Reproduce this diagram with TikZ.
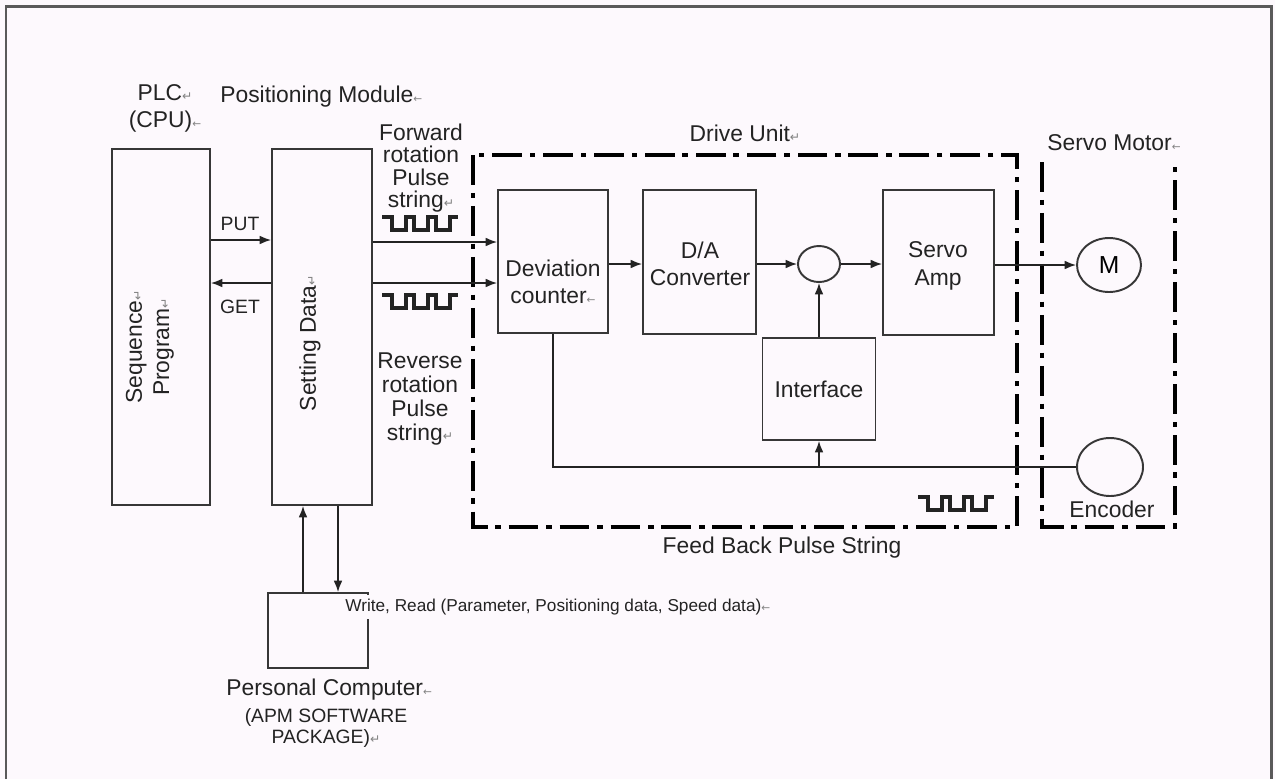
\documentclass[tikz,border=0pt]{standalone}
\usepackage{fontspec}
\setmainfont{Liberation Sans}
\newfontfamily\symfont{DejaVu Sans}
\usetikzlibrary{arrows.meta,shapes.geometric}
\definecolor{bg}{RGB}{253,249,253}
\definecolor{ink}{RGB}{35,35,35}
\definecolor{edge}{RGB}{55,55,55}
\definecolor{markc}{RGB}{130,130,130}
\definecolor{frame}{RGB}{90,90,90}
\newcommand\brk{{\symfont\fontsize{7}{7}\selectfont\color{markc}↵}}
\newcommand\parm{{\symfont\fontsize{6}{6}\selectfont\color{markc}←}}
\newcommand\pulsewave[2]{%
  \draw[ink, line width=2pt, line join=miter] (#1,#2) -- ++(10,0) -- ++(0,13) -- ++(14,0) -- ++(0,-13)
    -- ++(8,0) -- ++(0,13) -- ++(14,0) -- ++(0,-13) -- ++(8,0) -- ++(0,13) -- ++(14,0) -- ++(0,-13) -- ++(8,0);}
\tikzset{
  box/.style={draw=edge, line width=1.1pt, rectangle, inner sep=0pt},
  circ/.style={draw=edge, line width=1.1pt, ellipse, inner sep=0pt},
  lbl/.style={text=ink, inner sep=0pt, font=\fontsize{13}{15.5}\selectfont},
  small/.style={text=ink, inner sep=0pt, font=\fontsize{11}{13}\selectfont},
  arr/.style={draw=ink, line width=0.8pt, -{Latex[length=6.5pt,width=5pt]}},
  wire/.style={draw=ink, line width=0.8pt},
  dashdot/.style={draw=black, line width=1.8pt, dash pattern=on 17pt off 4.5pt on 3pt off 4.5pt},
}
\begin{document}
\begin{tikzpicture}[x=0.02cm, y=-0.02cm]
\fill[bg] (0,0) rectangle (1275,779);
\useasboundingbox (0,0) rectangle (1275,779);
% outer frame
\draw[frame, line width=1.7pt] (6,779) -- (6,6) -- (1271,6) -- (1271,779);

% dashed groups
\draw[dashdot] (473,155) rectangle (1017,527);
\draw[dashdot] (1042,162) -- (1042,527) -- (1175,527) -- (1175,160);

% boxes
\node[box, minimum width=1.96cm, minimum height=7.12cm] (plc) at (161,327) {};
\node[box, minimum width=2.0cm, minimum height=7.12cm] (sd) at (322,327) {};
\node[box, minimum width=2.2cm, minimum height=2.86cm] (dc) at (553,261.5) {};
\node[box, minimum width=2.26cm, minimum height=2.88cm] (da) at (699.5,262) {};
\node[box, minimum width=2.22cm, minimum height=2.9cm] (sa) at (938.5,262.5) {};
\node[box, minimum width=2.26cm, minimum height=2.04cm] (if) at (819,389) {};
\node[circ, minimum width=0.84cm, minimum height=0.72cm] (sum) at (819,264) {};
\node[circ, minimum width=1.28cm, minimum height=1.08cm, font=\fontsize{14}{14}\selectfont] (m) at (1109,265) {M};
\node[circ, minimum width=1.32cm, minimum height=1.16cm] (enc) at (1110,467) {};
\node[box, minimum width=2.0cm, minimum height=1.5cm] (pc) at (318,630.5) {};

% texts
\node[lbl, align=center] (plcl) at (165,108) {PLC\brk\\(CPU)\parm};
\node[lbl, anchor=west] (pml) at (220,97) {Positioning Module\parm};
\node[lbl, align=center, font=\fontsize{13}{12.8}\selectfont] (fwdl) at (421,168) {Forward\\rotation\\Pulse\\string\brk};
\node[lbl, align=center, font=\fontsize{13}{13.6}\selectfont] (revl) at (420,399) {Reverse\\rotation\\Pulse\\string\brk};
\node[lbl] (dul) at (745,133) {Drive Unit\brk};
\node[lbl, anchor=west] (sml) at (1047,143) {Servo Motor\parm};
\node[lbl, align=center, rotate=90] (seql) at (150,347) {Sequence\brk\\Program\brk};
\node[lbl, rotate=90] (sdl) at (310,343) {Setting Data\brk};
\node[small] (putl) at (240,224) {PUT};
\node[small] (getl) at (240,307) {GET};
\node[lbl, align=center] (dcl) at (553,282) {Deviation\\counter\parm};
\node[lbl, align=center] (dal) at (700,264) {D/A\\Converter};
\node[lbl, align=center] (sal) at (938,266) {Servo\\Amp};
\node[lbl] (ifl) at (819,389) {Interface};
\node[lbl] (encl) at (1112,509) {Encoder};
\node[lbl] (fbl) at (782,548) {Feed Back Pulse String};
\node[lbl, anchor=west] (pcl) at (226,690) {Personal Computer\parm};
\node[small, align=center, font=\fontsize{11}{12.5}\selectfont] (apml) at (326,728) {(APM SOFTWARE\\PACKAGE)\brk};

% pulse strings
\pulsewave{382}{217}
\pulsewave{382}{295}
\pulsewave{918}{497}

% helper coordinates
\coordinate (yput) at (0,240);
\coordinate (yget) at (0,283);
\coordinate (yfwd) at (0,242);
\coordinate (yrev) at (0,283);
\coordinate (xup) at (303,0);
\coordinate (xdn) at (338,0);

% connectors
\draw[arr] (plc.east |- yput) -- (sd.west |- yput);
\draw[arr] (sd.west |- yget) -- (plc.east |- yget);
\draw[arr] (sd.east |- yfwd) -- (dc.west |- yfwd);
\draw[arr] (sd.east |- yrev) -- (dc.west |- yrev);
\draw[arr] (dc.east |- sum) -- (da.west |- sum);
\draw[arr] (da.east |- sum) -- (sum.west);
\draw[arr] (sum.east) -- (sa.west |- sum);
\draw[arr] (sa.east |- m) -- (m.west);
\draw[arr] (if.north) -- (sum.south);
\draw[wire] (dc.south) -- (dc.south |- enc) -- (enc.west);
\draw[arr] (if.south |- enc) -- (if.south);
\draw[arr] (pc.north -| xup) -- (sd.south -| xup);
\draw[arr] (sd.south -| xdn) -- (pc.north -| xdn);

% write/read label (covers the PC box edge)
\node[small, anchor=west, fill=bg, inner ysep=2pt, font=\fontsize{9.8}{12}\selectfont] (wrl) at (345,607) {Write, Read (Parameter, Positioning data, Speed data)\parm};
\end{tikzpicture}
\end{document}
